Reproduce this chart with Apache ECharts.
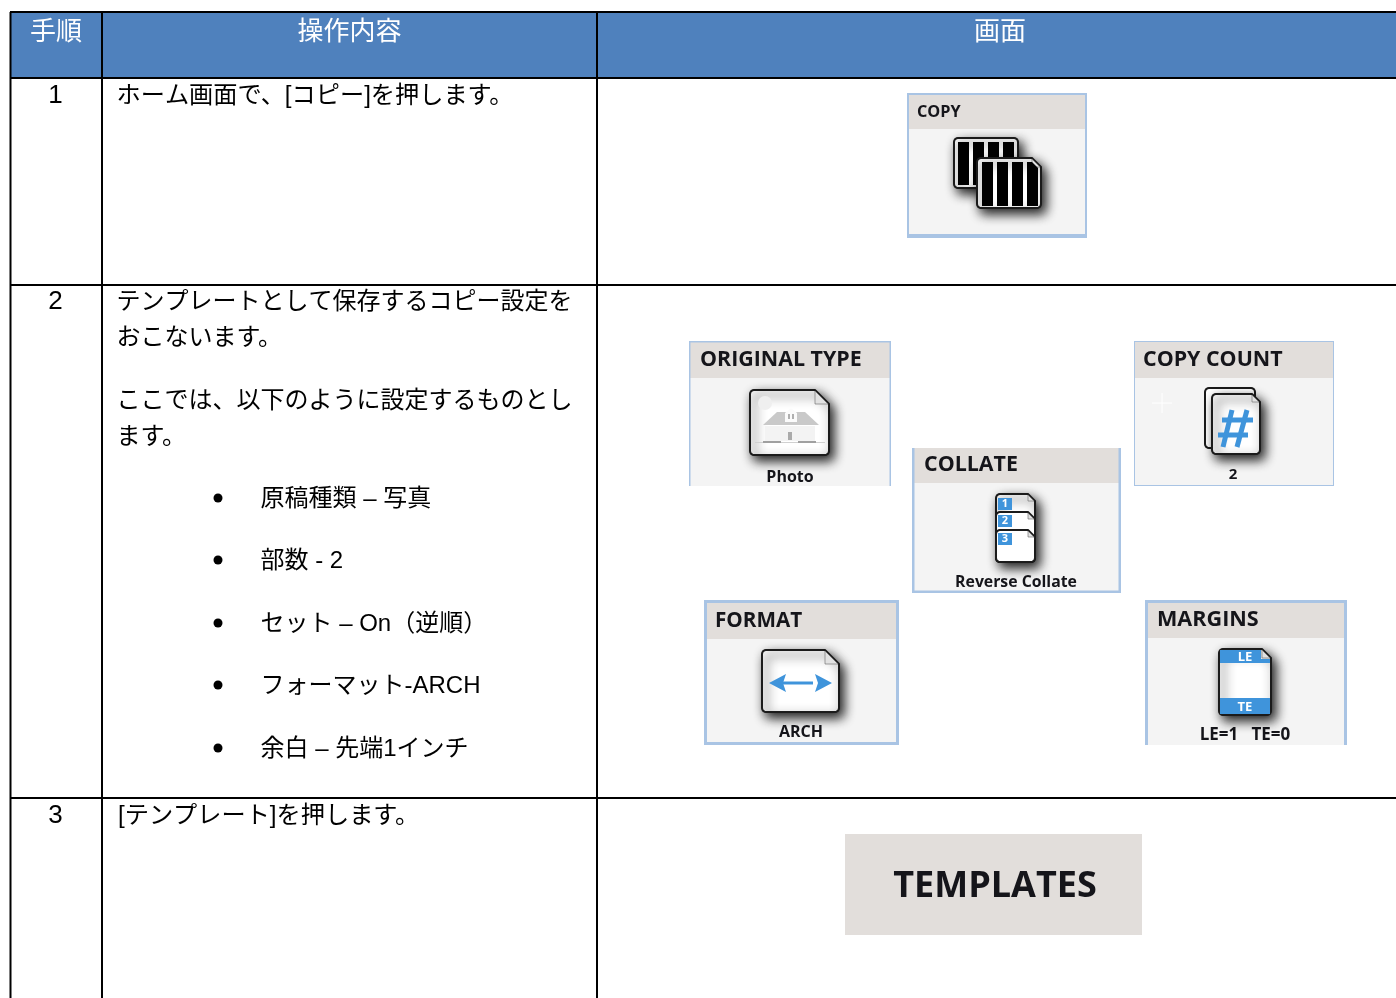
<!DOCTYPE html>
<html><head><meta charset="utf-8">
<style>html,body{margin:0;padding:0;background:#fff}#c{width:1396px;height:998px}</style>
<script src="https://cdn.jsdelivr.net/npm/echarts@6/dist/echarts.min.js"></script>
</head><body><div id="c"></div>
<script>
// ---- content ----
const headers = ['手順', '操作内容', '画面'];
const stepNumbers = ['1', '2', '3'];
const step1Lines = ['ホーム画面で、[コピー]を押します。'];
const step2Lines = ['テンプレートとして保存するコピー設定を', 'おこないます。', 'ここでは、以下のように設定するものとし', 'ます。'];
const step2Bullets = ['原稿種類 – 写真', '部数 - 2', 'セット – On（逆順）', 'フォーマット-ARCH', '余白 – 先端1インチ'];
const step3Lines = ['[テンプレート]を押します。'];
const panelTitles = ['COPY', 'ORIGINAL TYPE', 'COPY COUNT', 'COLLATE', 'FORMAT', 'MARGINS'];
const panelValues = ['', 'Photo', '2', 'Reverse Collate', 'ARCH', 'LE=1   TE=0'];
const buttonLabel = 'TEMPLATES';
const collateDigits = ['1', '2', '3'];
const marginTags = ['LE', 'TE'];

// ---- drawing helpers ----
const JP = '"Liberation Sans","Noto Sans CJK JP",sans-serif';
const UI = '"Open Sans","Noto Sans",sans-serif';
const BLUE = '#3f94db', EDGE = '#a9c4e4', HEAD = '#e2dedb', BODY = '#f4f4f4';
const els = [];
let z = 1;
const rect = (x, y, w, h, fill, r) => els.push({type:'rect', z:z++, shape:{x, y, width:w, height:h, r:r||0}, style:{fill}});
const text = (s, x, y, size, fill, o) => els.push({type:'text', z:z++, style:Object.assign({
  text:s, x, y, fontSize:size, fontFamily:JP, fill, textAlign:'left', textVerticalAlign:'middle'}, o||{})});
const ui = (s, x, y, size, align) => text(s, x, y, size, '#15151a', {fontFamily:UI, fontWeight:700, textAlign:align||'left'});
const seg = (x1, y1, x2, y2, stroke, width) => els.push({type:'line', z:z++, shape:{x1, y1, x2, y2}, style:{stroke, lineWidth:width, lineCap:'butt'}});
const poly = (pts, fill) => els.push({type:'polygon', z:z++, shape:{points:pts}, style:{fill}});
function doc(x, y, w, h, f, shadow, fill) {
  const r = 4;
  const c = (cx, cy, a0) => [0, 1, 2, 3, 4].map(i => {
    const a = a0 + i * Math.PI / 8;
    return [cx + r * Math.cos(a), cy + r * Math.sin(a)];
  });
  const pts = [[x + r, y], ...(f ? [[x + w - f, y], [x + w, y + f]] : c(x + w - r, y + r, -Math.PI / 2)),
    ...c(x + w - r, y + h - r, 0), ...c(x + r, y + h - r, Math.PI / 2), ...c(x + r, y + r, Math.PI)];
  const style = {fill: fill||'#fff', stroke:'#1b1b1b', lineWidth:2, lineJoin:'round'};
  if (shadow) Object.assign(style, {shadowBlur:11, shadowColor:'rgba(0,0,0,0.9)', shadowOffsetX:4, shadowOffsetY:5});
  els.push({type:'polygon', z:z++, shape:{points:pts}, style});
  if (f) els.push({type:'polygon', z:z++, shape:{points:[[x+w-f, y+1], [x+w-f, y+f], [x+w-1, y+f]]}, style:{fill:'#e2e2e2', stroke:'#666', lineWidth:0.6}});
}
function panel(x, y, w, h, headBottom, sides, bw, title, tx, ty, tsize, value, vx, vy, vsize) {
  rect(x, y, w, h, BODY);
  rect(x, y, w, headBottom - y, HEAD);
  if (sides.includes('t')) rect(x, y, w, bw, EDGE);
  if (sides.includes('l')) rect(x, y, bw, h, EDGE);
  if (sides.includes('r')) rect(x + w - bw, y, bw, h, EDGE);
  if (sides.includes('b')) rect(x, y + h - bw, w, bw, EDGE);
  ui(title, tx, ty, tsize);
  if (value) ui(value, vx, vy, vsize, 'center');
}

// ---- table ----
rect(10, 12, 1386, 66, '#4f81bd');
[[10,12,1396,12],[10,78,1396,78],[10,285,1396,285],[10,798,1396,798]].forEach(l => seg(l[0], l[1], l[2], l[3], '#000', 2));
[10.5, 102, 597].forEach(x => seg(x, 12, x, 998, '#000', 2));
text(headers[0], 56, 33, 26, '#fff', {textAlign:'center'});
text(headers[1], 349.5, 33, 26, '#fff', {textAlign:'center'});
text(headers[2], 1000, 33, 26, '#fff', {textAlign:'center'});
[96, 302, 816].forEach((y, i) => text(stepNumbers[i], 55.5, y, 26, '#000', {textAlign:'center'}));
text(step1Lines[0], 116.5, 96, 24.2, '#000');
[302, 338, 401, 437].forEach((y, i) => text(step2Lines[i], 116.5, y, 24, '#000'));
[499, 561, 624, 686, 749].forEach((y, i) => {
  els.push({type:'circle', z:z++, shape:{cx:218, cy:y - 1, r:4.5}, style:{fill:'#000'}});
  text(step2Bullets[i], 260.5, y, 24, '#000');
});
text(step3Lines[0], 118, 816, 24.2, '#000');

// ---- COPY ----
panel(907, 93, 180, 145, 129, 'tlr', 2, panelTitles[0], 917, 112, 16.3);
rect(907, 234, 180, 4, EDGE);
doc(954, 138, 64, 50, 0, true);
[958, 973, 988, 1003].forEach(x => rect(x, 142, 11, 43, '#000'));
doc(977, 158, 64, 50, 9, true);
[982, 997, 1012].forEach(x => rect(x, 162, 11, 44, '#000'));
poly([[1027,162],[1032,162],[1038,168],[1038,206],[1027,206]], '#000');

// ---- ORIGINAL TYPE ----
panel(689, 341, 202, 145, 378, 'tlr', 1.5, panelTitles[1], 700, 360, 21.4, panelValues[1], 790, 477, 16);
doc(750, 390, 79, 65, 14, true);
els.push({type:'circle', z:z++, shape:{cx:765, cy:403, r:7}, style:{fill:'#efefef'}});
poly([[763,425],[777,412],[805,412],[819,425]], '#c9c9c9');
poly([[785,422],[785,413],[791,408],[797,413],[797,422]], '#fbfbfb');
rect(788, 414, 2, 5, '#b0b0b0');
rect(792, 414, 2, 5, '#b0b0b0');
rect(765, 426, 50, 15, '#f3f3f3');
rect(788, 432, 4, 8, '#aaa');
rect(755, 442, 70, 1, '#d0d0d0');
rect(763, 441, 18, 2, '#a0a0a0');
rect(798, 441, 18, 2, '#a0a0a0');

// ---- COPY COUNT ----
panel(1134, 341, 200, 145, 378, 'tlrb', 1, panelTitles[2], 1143, 360, 21.4, panelValues[2], 1233, 475, 15);
seg(1152, 403, 1172, 403, '#fff', 1);
seg(1162, 393, 1162, 413, '#fff', 1);
doc(1205, 388, 50, 60, 0, false);
doc(1212, 394, 48, 60, 8, true);
seg(1232, 410, 1223, 447, BLUE, 5);
seg(1247, 410, 1237, 447, BLUE, 5);
seg(1222, 420, 1253, 420, BLUE, 5);
seg(1218, 435, 1248, 435, BLUE, 5);

// ---- COLLATE ----
panel(912, 448, 209, 145, 483, 'lrb', 2.5, panelTitles[3], 924, 465, 21.4, panelValues[3], 1016, 582, 15.8);
doc(996, 494, 39, 68, 7, true);
doc(996, 512, 39, 50, 7, false);
doc(996, 530, 39, 32, 7, false);
[[498,503.5],[515,521],[533,538.5]].forEach((p, i) => {
  rect(998, p[0], 14, 12, BLUE);
  text(collateDigits[i], 1005, p[1], 11, '#fff', {textAlign:'center', fontFamily:UI, fontWeight:700});
});

// ---- FORMAT ----
panel(704, 600, 195, 145, 639, 'tlrb', 3, panelTitles[4], 715, 621, 20.7, panelValues[4], 801, 732, 16);
doc(762, 650, 77, 62, 14, true);
rect(781, 681.5, 32, 3, BLUE);
poly([[769,683],[786,674],[783,683],[786,692]], BLUE);
poly([[832,683],[815,674],[818,683],[815,692]], BLUE);

// ---- MARGINS ----
panel(1145, 600, 202, 145, 638, 'tlr', 3, panelTitles[5], 1157, 620, 21.6, panelValues[5], 1245, 735, 17);
doc(1219, 649, 52, 66, 9, true);
rect(1220, 650, 41, 13, BLUE);
rect(1261, 659, 9, 4, BLUE);
rect(1220, 698, 50, 16, BLUE);
text(marginTags[0], 1245, 657, 13, '#fff', {textAlign:'center', fontFamily:UI, fontWeight:700});
text(marginTags[1], 1245, 707, 13, '#fff', {textAlign:'center', fontFamily:UI, fontWeight:700});

// ---- TEMPLATES ----
rect(845, 834, 297, 101, HEAD);
ui(buttonLabel, 995, 887, 36, 'center');

echarts.init(document.getElementById('c'), null, {renderer:'canvas'}).setOption({
  animation:false, backgroundColor:'#fff', graphic:{elements:els}
});
</script></body></html>
